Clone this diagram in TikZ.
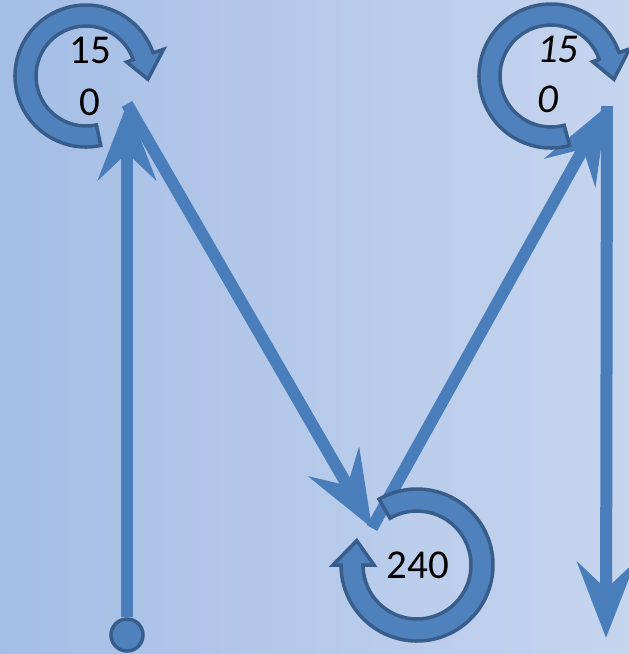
\documentclass[tikz,border=0pt]{standalone}
\usepackage{fontspec}
\setmainfont{Carlito}
\usetikzlibrary{arrows.meta}
\definecolor{bgleft}{RGB}{165,190,230}
\definecolor{bgright}{RGB}{198,213,238}
\definecolor{lineblue}{RGB}{74,126,187}
\definecolor{bandblue}{RGB}{79,129,189}
\definecolor{banddark}{RGB}{56,93,138}
\tikzset{
  link/.style={line width=12pt, draw=lineblue, -{Stealth[length=76pt, width=58pt, inset=27pt]}},
  turn/.style={fill=bandblue, draw=banddark, line width=3.5pt},
  dot/.style={circle, fill=bandblue, draw=banddark, line width=3.5pt, minimum size=32pt, inner sep=0pt},
  lbl/.style={font=\fontsize{41}{52}\selectfont, inner sep=0pt}
}
\begin{document}
\begin{tikzpicture}[x=1pt, y=-1pt]
\useasboundingbox (0, 0) rectangle (629, 654);
\shade[left color=bgleft, right color=bgright] (0, 0) rectangle (629, 654);
%Path points
\node[dot] (start) at (127, 635) {};
\coordinate (pA) at (127, 104);
\coordinate (pB) at (372, 528);
\coordinate (pC) at (607, 106);
\coordinate (pD) at (606, 638);
\draw[link] (start) -- (pA);
\draw[link] (pA) -- (pB);
\draw[link] (pB) -- (pC);
\draw[link] (pC) -- (pD);
%Turns
\filldraw[turn, shift={(86, 76)}] (78:71) arc[start angle=78, end angle=341, radius=71] -- (341:82) -- (363:62) -- (341:43) -- (341:50) arc[start angle=341, end angle=78, radius=50] -- cycle;
\filldraw[turn, shift={(551, 76)}] (75:72) arc[start angle=75, end angle=341, radius=72] -- (341:83) -- (363:63) -- (341:44) -- (341:51) arc[start angle=341, end angle=75, radius=51] -- cycle;
\filldraw[turn, shift={(417, 565)}] (-120:76) arc[start angle=-120, end angle=180, radius=76] -- (180:84) -- (202:65) -- (180:43) -- (180:54) arc[start angle=180, end angle=-120, radius=54] -- cycle;
%Labels
\node[lbl, align=center] (lblA) at (90, 76) {15\\0};
\node[lbl, align=left, anchor=west, font=\fontsize{41}{50}\selectfont\itshape] (lblC) at (537, 74) {15\\0};
\node[lbl] (lblB) at (418, 565) {240};
\end{tikzpicture}
\end{document}
